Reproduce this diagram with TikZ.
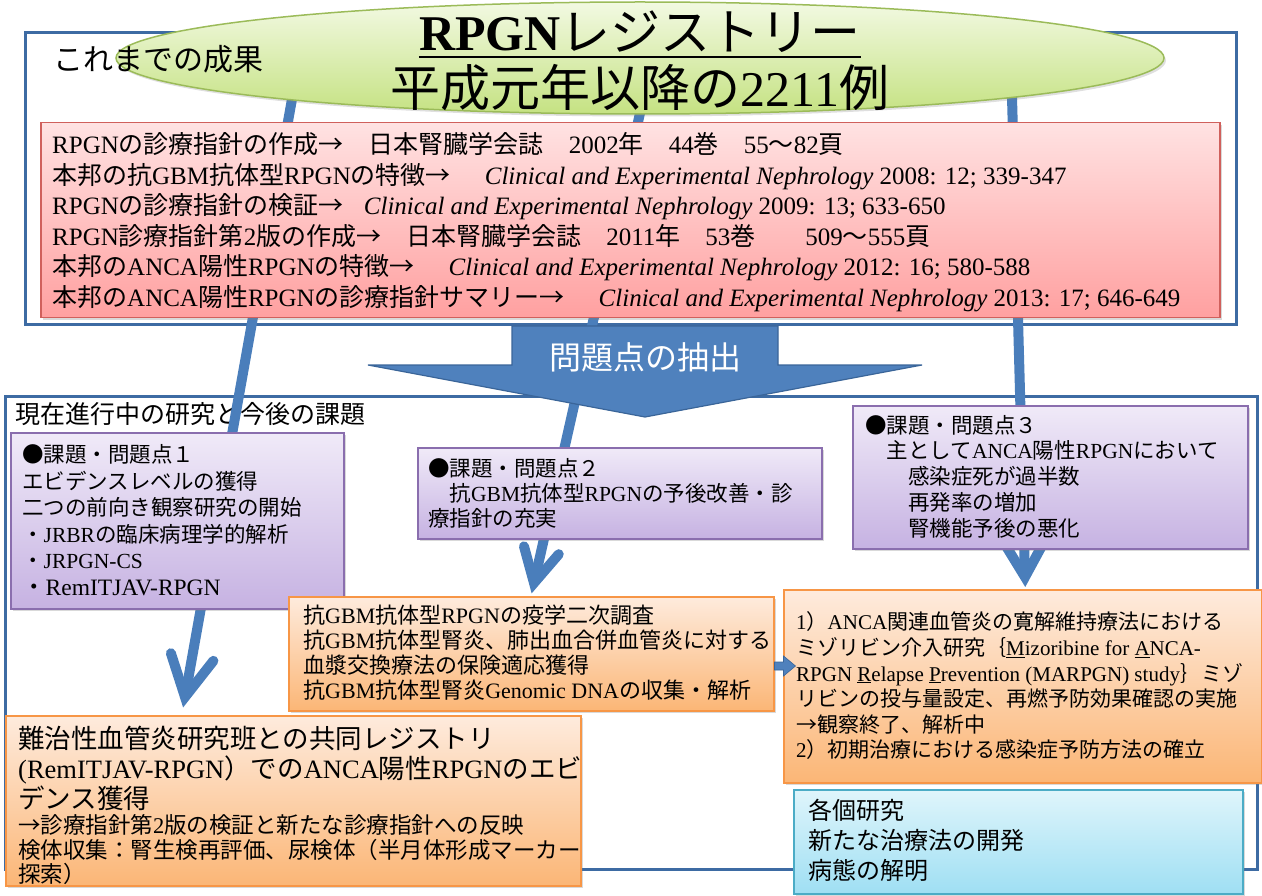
\documentclass[tikz,border=0pt]{standalone}
\usepackage{fontspec}
\setmainfont{Liberation Serif}
\newfontfamily\jpfont{Noto Sans CJK JP}
\usetikzlibrary{shapes.geometric,shadows,calc}
\XeTeXinterchartokenstate=1
\newXeTeXintercharclass\JPclass
\newcount\jpc
\def\setjprange#1#2{\jpc=#1\relax
  \loop\XeTeXcharclass\jpc=\JPclass\relax
  \ifnum\jpc<#2\relax\advance\jpc by 1\relax\repeat}
\setjprange{"3000}{"30FF}
\setjprange{"4E00}{"9FFF}
\setjprange{"FF00}{"FFEF}
\XeTeXcharclass"2192=\JPclass\relax
\XeTeXcharclass"25CF=\JPclass\relax
\XeTeXinterchartoks 0 \JPclass = {\begingroup\jpfont}
\XeTeXinterchartoks 4095 \JPclass = {\begingroup\jpfont}
\XeTeXinterchartoks \JPclass 0 = {\endgroup}
\XeTeXinterchartoks \JPclass 4095 = {\endgroup}

\definecolor{frameblue}{HTML}{3D6BA3}
\definecolor{linkblue}{HTML}{4A7EBB}
\definecolor{arrowfill}{HTML}{4F81BD}
\definecolor{arrowline}{HTML}{3A6599}
\definecolor{redtop}{HTML}{FFE2E2}
\definecolor{redbot}{HTML}{FFA0A0}
\definecolor{redline}{HTML}{D0605C}
\definecolor{purtop}{HTML}{F0EAF8}
\definecolor{purbot}{HTML}{C6B2E2}
\definecolor{purline}{HTML}{8A6EAE}
\definecolor{orgtop}{HTML}{FEEBDD}
\definecolor{orgbot}{HTML}{FBB676}
\definecolor{orgline}{HTML}{F79646}
\definecolor{cyntop}{HTML}{DFF5FB}
\definecolor{cynbot}{HTML}{9FDFF3}
\definecolor{cynline}{HTML}{4BACC6}
\definecolor{grntop}{HTML}{F2F9E2}
\definecolor{grnbot}{HTML}{C5E282}
\definecolor{grnline}{HTML}{9BBB59}

\tikzset{
  frame/.style={draw=frameblue, line width=3},
  panel/.style={rectangle, inner sep=0, anchor=north west,
    drop shadow={opacity=0.3, shadow xshift=2pt, shadow yshift=-2.5pt}},
  redbox/.style={panel, draw=redline, line width=1.5, top color=redtop, bottom color=redbot},
  purbox/.style={panel, draw=purline, line width=1.5, top color=purtop, bottom color=purbot},
  orgbox/.style={panel, draw=orgline, line width=1.5, top color=orgtop, bottom color=orgbot},
  cynbox/.style={panel, draw=cynline, line width=1.5, top color=cyntop, bottom color=cynbot},
  txt/.style={anchor=west, align=left, inner sep=0, text=black},
  link/.style={draw=linkblue, line width=10},
  chev/.style={draw=linkblue, line width=10, line cap=round, line join=miter},
  bigarrow/.style={fill=arrowfill, draw=arrowline, line width=1.2},
}

\begin{document}
\begin{tikzpicture}[x=1pt,y=-1pt]
\useasboundingbox (0,0) rectangle (1262,896);

% frames
\draw[frame] (25,33) rectangle (1236,325);
\draw[frame] (5,396) rectangle (1257,869);

\node[txt, anchor=base west, font=\fontsize{25}{30}\selectfont] (lowtitle) at (15,423) {現在進行中の研究と今後の課題};

% connectors
\coordinate (sA) at (299,60);  \coordinate (tA) at (185,697);
\coordinate (sB) at (652,60);  \coordinate (tB) at (534,583);
\coordinate (sC) at (1011,60); \coordinate (tC) at (1025,577);
\draw[link] (sA) -- (tA);
\draw[chev] ($(tA)!46pt!28:(sA)$) -- (tA) -- ($(tA)!46pt!-28:(sA)$);
\draw[link] (sB) -- (tB);
\draw[chev] ($(tB)!38pt!28:(sB)$) -- (tB) -- ($(tB)!38pt!-28:(sB)$);
\draw[link] (sC) -- (tC);
\draw[chev] ($(tC)!36pt!30:(sC)$) -- (tC) -- ($(tC)!36pt!-30:(sC)$);

% title ellipse
\node[ellipse, inner sep=0, minimum width=1048, minimum height=112, draw=grnline, line width=1.5,
  top color=grntop, bottom color=grnbot,
  drop shadow={opacity=0.25, shadow xshift=2pt, shadow yshift=-2.5pt}] (reg) at (640,58) {};
\node[txt, anchor=base west, font=\fontsize{30}{34}\selectfont] (sofar) at (53,71) {これまでの成果};
\node[txt, anchor=base, font=\fontsize{50}{56}\selectfont] (t1) at (640,51) {{\bfseries RPGN}レジストリー};
\draw[line width=2.5] ($(t1.base west)+(0,6)$) -- ($(t1.base east)+(0,6)$);
\node[txt, anchor=base, font=\fontsize{50}{56}\selectfont] (t2) at (640,107) {平成元年以降の2211例};

% results box
\node[redbox, minimum width=1179, minimum height=195] (red) at (40,122) {};
\node[txt, font=\fontsize{25}{30.5}\selectfont] (redtxt) at (52,222) {%
RPGNの診療指針の作成→　日本腎臓学会誌　2002年　44巻　55～82頁\\
本邦の抗GBM抗体型RPGNの特徴→\hspace{34pt}\textit{Clinical and Experimental Nephrology} 2008: 12; 339-347\\
RPGNの診療指針の検証→\hspace{20pt}\textit{Clinical and Experimental Nephrology} 2009: 13; 633-650\\
RPGN診療指針第2版の作成→　日本腎臓学会誌　2011年　53巻　　509～555頁\\
本邦のANCA陽性RPGNの特徴→\hspace{34pt}\textit{Clinical and Experimental Nephrology} 2012: 16; 580-588\\
本邦のANCA陽性RPGNの診療指針サマリー→\hspace{34pt}\textit{Clinical and Experimental Nephrology} 2013: 17; 646-649};

% big arrow
\draw[bigarrow] (512,326) -- (778,326) -- (778,365) -- (922,365) -- (645,417) -- (368,365) -- (512,365) -- cycle;
\node[inner sep=0, text=white, font=\fontsize{32}{36}\selectfont] (prob) at (645,357) {問題点の抽出};

% purple boxes
\node[purbox, minimum width=333, minimum height=176] (p1) at (10,432) {};
\node[txt, font=\fontsize{21.5}{26.5}\selectfont] (p1t) at (22,520) {%
●課題・問題点１\\
エビデンスレベルの獲得\\
二つの前向き観察研究の開始\\
・JRBRの臨床病理学的解析\\
・JRPGN-CS\\
{\fontsize{23.5}{26.5}\selectfont ・RemITJAV-RPGN}};

\node[purbox, minimum width=404, minimum height=91] (p2) at (417,447) {};
\node[txt, font=\fontsize{21.5}{25}\selectfont] (p2t) at (428,493) {%
●課題・問題点２\\
　抗GBM抗体型RPGNの予後改善・診\\
療指針の充実};

\node[purbox, minimum width=395, minimum height=143] (p3) at (852,405) {};
\node[txt, font=\fontsize{21.5}{25.8}\selectfont] (p3t) at (865,476.5) {%
●課題・問題点３\\
　主としてANCA陽性RPGNにおいて\\
　　感染症死が過半数\\
　　再発率の増加\\
　　腎機能予後の悪化};

% orange boxes
\node[orgbox, minimum width=485, minimum height=114] (oA) at (288,596) {};
\node[txt, font=\fontsize{22}{25}\selectfont] (oAt) at (303,652.5) {%
抗GBM抗体型RPGNの疫学二次調査\\
抗GBM抗体型腎炎、肺出血合併血管炎に対する\\
血漿交換療法の保険適応獲得\\
抗GBM抗体型腎炎Genomic DNAの収集・解析};

\node[orgbox, minimum width=478, minimum height=193] (oB) at (783,589) {};
\node[txt, font=\fontsize{21}{25.6}\selectfont] (oBt) at (796,686) {%
1）ANCA関連血管炎の寛解維持療法における\\
ミゾリビン介入研究｛\underline{M}izoribine for \underline{A}NCA-\\
RPGN \underline{R}elapse \underline{P}revention (MARPGN) study｝ミゾ\\
リビンの投与量設定、再燃予防効果確認の実施\\
→観察終了、解析中\\
2）初期治療における感染症予防方法の確立};

\node[orgbox, minimum width=575, minimum height=170] (oC) at (5,715) {};
\node[txt, font=\fontsize{26.5}{30}\selectfont] (oCt1) at (18,768) {%
難治性血管炎研究班との共同レジストリ\\
(RemITJAV-RPGN）でのANCA陽性RPGNのエビ\\
デンス獲得};
\node[txt, font=\fontsize{22.5}{24.5}\selectfont] (oCt2) at (18,850) {%
→診療指針第2版の検証と新たな診療指針への反映\\
検体収集：腎生検再評価、尿検体（半月体形成マーカー\\
探索）};

% small block arrow
\coordinate (aS) at ($(oA.north east)+(0,70)$);
\draw[bigarrow, line width=0.6] (aS) ++(0,-4) -- ++(9,0) -- ++(0,-6) -- ++(12,10) -- ++(-12,10) -- ++(0,-6) -- ++(-9,0) -- cycle;

% cyan box
\node[cynbox, minimum width=449, minimum height=104] (cy) at (793,789) {};
\node[txt, font=\fontsize{24}{30}\selectfont] (cyt) at (808,840) {%
各個研究\\
新たな治療法の開発\\
病態の解明};
\end{tikzpicture}
\end{document}
